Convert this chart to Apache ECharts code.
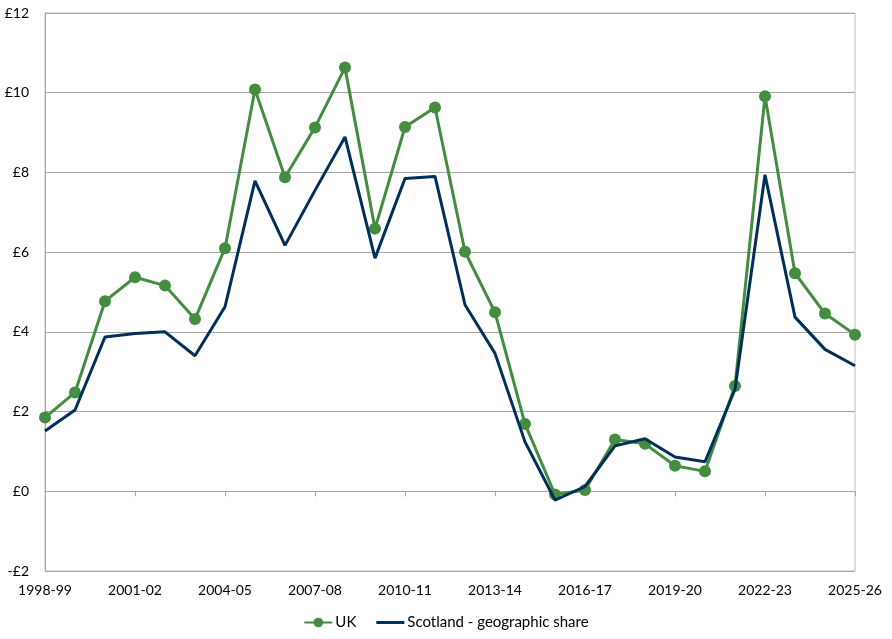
<!DOCTYPE html>
<html>
<head>
<meta charset="utf-8">
<script src="https://cdn.jsdelivr.net/npm/echarts@6/dist/echarts.min.js"></script>
<style>
  html, body { margin: 0; padding: 0; background: #fff; }
  #chart { width: 892px; height: 639px; }
</style>
</head>
<body>
<div id="chart"></div>
<script>
// Categories | financial years
const years = [
    '1998-99', '1999-00', '2000-01', '2001-02', '2002-03', '2003-04', '2004-05',
    '2005-06', '2006-07', '2007-08', '2008-09', '2009-10', '2010-11', '2011-12',
    '2012-13', '2013-14', '2014-15', '2015-16', '2016-17', '2017-18', '2018-19',
    '2019-20', '2020-21', '2021-22', '2022-23', '2023-24', '2024-25', '2025-26'
];

// UK series
const ukValues = [
    1.85, 2.48, 4.77, 5.37, 5.16, 4.32, 6.10,
    10.08, 7.88, 9.13, 10.63, 6.59, 9.14, 9.63,
    6.01, 4.49, 1.69, -0.08, 0.03, 1.30, 1.19,
    0.64, 0.50, 2.64, 9.91, 5.47, 4.46, 3.93
];

// Scotland - geographic share
const scotValues = [
    1.51, 2.04, 3.87, 3.96, 4.00, 3.40, 4.63,
    7.79, 6.17, 7.55, 8.89, 5.85, 7.85, 7.90,
    4.68, 3.46, 1.24, -0.22, 0.12, 1.14, 1.32,
    0.86, 0.74, 2.56, 7.94, 4.37, 3.56, 3.15
];

// Y axis range
const yMin = -2;
const yMax = 12;
const yStep = 2;

const fontFamily = 'Lato, "Open Sans", sans-serif';

const chart = echarts.init(document.getElementById('chart'));

const option = {
    animation: false,
    textStyle: { fontFamily: fontFamily },
    grid: {
        left: 45,
        right: 37,
        top: 13,
        bottom: 68,
        show: true,
        borderColor: '#bfbfbf',
        borderWidth: 1
    },
    legend: {
        bottom: 4,
        left: 'center',
        itemWidth: 28,
        itemHeight: 12,
        itemGap: 20,
        textStyle: { fontSize: 15, color: '#000', fontFamily: fontFamily, padding: [0, 0, 0, -2] },
        data: [
            { name: 'UK' },
            // 只有线条 | line only
            { name: 'Scotland - geographic share', icon: 'path://M0,0L28,0L28,3L0,3Z' }
        ]
    },
    xAxis: {
        type: 'category',
        boundaryGap: false,
        data: years,
        axisLine: { lineStyle: { color: '#a6a6a6' } },
        axisTick: { interval: 2, length: 5, lineStyle: { color: '#a6a6a6' } },
        axisLabel: { interval: 2, color: '#000', fontSize: 14, margin: 12, fontFamily: fontFamily },
        splitLine: { show: false }
    },
    yAxis: {
        type: 'value',
        min: yMin,
        max: yMax,
        interval: yStep,
        axisLine: { show: true, lineStyle: { color: '#a6a6a6' } },
        axisTick: { show: false },
        axisLabel: {
            color: '#000',
            fontSize: 14,
            margin: 16,
            fontFamily: fontFamily,
            formatter: function (v) {
                return (v < 0 ? '-£' : '£') + Math.abs(v);
            }
        },
        splitLine: { lineStyle: { color: '#a6a6a6' } }
    },
    series: [
        {
            name: 'UK',
            type: 'line',
            data: ukValues,
            symbol: 'circle',
            symbolSize: 12,
            lineStyle: { color: '#438c40', width: 3 },
            itemStyle: { color: '#438c40' },
            z: 3
        },
        {
            name: 'Scotland - geographic share',
            type: 'line',
            data: scotValues,
            symbol: 'none',
            lineStyle: { color: '#00305a', width: 3 },
            itemStyle: { color: '#00305a' },
            z: 4
        }
    ]
};

chart.setOption(option);
</script>
</body>
</html>
